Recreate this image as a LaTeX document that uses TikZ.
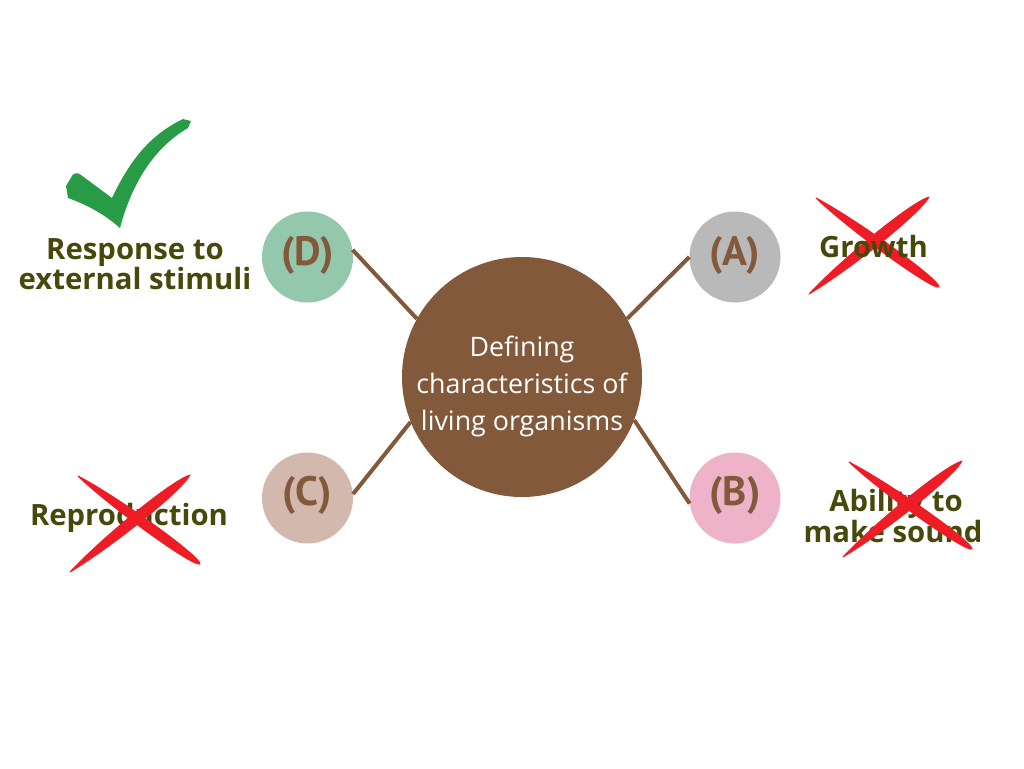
\documentclass[tikz,border=0pt]{standalone}
\usepackage{fontspec}
\setmainfont{Open Sans}
\newfontfamily\letterfont{PT Sans}
\usetikzlibrary{calc}
\definecolor{brownc}{HTML}{82593B}
\definecolor{olivec}{HTML}{47490A}
\definecolor{greenc}{HTML}{289B47}
\definecolor{redc}{HTML}{EE1C25}
\definecolor{greyc}{HTML}{B8B9B8}
\definecolor{pinkc}{HTML}{EFB3C9}
\definecolor{tanc}{HTML}{D2B8AD}
\definecolor{mintc}{HTML}{93C8AD}
\tikzset{
  x=1pt,y=-1pt,
  optcircle/.style={circle,minimum size=91pt,inner sep=0pt},
  optletter/.style={inner sep=0pt,text=brownc,font=\letterfont\bfseries\fontsize{41}{41}\selectfont},
  hub/.style={circle,fill=brownc,minimum size=240pt,inner sep=0pt},
  hubtext/.style={text=white,align=center,inner sep=0pt,font=\fontsize{26.8}{37}\selectfont},
  link/.style={draw=brownc,line width=4pt},
  answer/.style={text=olivec,align=center,inner sep=0pt,font=\bfseries\fontsize{29.3}{29}\selectfont},
  crossstroke/.style={fill=redc,draw=redc,line width=1pt,line join=round},
}
\newcommand{\bluntmark}[2]{%
  \path[crossstroke] (#1) .. controls ($(#1)!.3!(#2)!6.5pt!90:(#2)$) and ($(#1)!.98!(#2)!6.5pt!90:(#2)$) .. (#2)
   .. controls ($(#1)!.98!(#2)!6.5pt!-90:(#2)$) and ($(#1)!.3!(#2)!6.5pt!-90:(#2)$) .. (#1) -- cycle;}
\newcommand{\spindlemark}[2]{%
  \path[crossstroke] (#1) .. controls ($(#1)!.12!(#2)!7.5pt!90:(#2)$) and ($(#1)!.7!(#2)!6.5pt!90:(#2)$) .. (#2)
   .. controls ($(#1)!.7!(#2)!6.5pt!-90:(#2)$) and ($(#1)!.12!(#2)!7.5pt!-90:(#2)$) .. (#1) -- cycle;}
\begin{document}
\begin{tikzpicture}
\useasboundingbox (0,0) rectangle (1024,768);
\fill[white] (0,0) rectangle (1024,768);
\node[hub] (center) at (522,377) {};
\node[hubtext] (centertext) at (522,386.5) {Defining\\characteristics of\\living organisms};
\node[optcircle,fill=mintc] (D) at (307.5,257) {};
\node[optcircle,fill=greyc] (A) at (735,257) {};
\node[optcircle,fill=tanc] (C) at (307.5,498) {};
\node[optcircle,fill=pinkc] (B) at (735,498) {};
\node[optletter] (Dl) at (307.5,255.5) {(D)};
\node[optletter] (Al) at (735,255.5) {(A)};
\node[optletter] (Cl) at (307.5,495.5) {(C)};
\node[optletter] (Bl) at (735,495.5) {(B)};
\draw[link] (D.9) -- (center.151);
\draw[link] (A.180) -- (center.29);
\draw[link] (C.5) -- (center.202.5);
\draw[link] (B.187) -- (center.-21);
% Growth: text above cross
\coordinate (g1) at (816,198); \coordinate (g2) at (939,287);
\coordinate (g3) at (929,197); \coordinate (g4) at (809,294);
\spindlemark{g3}{g4}
\bluntmark{g1}{g2}
\node[answer] (growth) at (873.5,246.5) {Growth};
% Ability
\node[answer] (ability) at (893,516) {\hspace*{6pt}Ability to\\make sound};
\coordinate (a1) at (849,462); \coordinate (a2) at (972,549);
\coordinate (a3) at (962,461); \coordinate (a4) at (843,557);
\bluntmark{a1}{a2}
\spindlemark{a3}{a4}
% Reproduction
\node[answer] (repro) at (129,517.5) {Reproduction};
\coordinate (r1) at (78,476); \coordinate (r2) at (200,564);
\coordinate (r3) at (190,475); \coordinate (r4) at (70,572);
\bluntmark{r1}{r2}
\spindlemark{r3}{r4}
% Response
\node[answer] (resp) at (135,264.5) {Response to\\external stimuli};
\fill[greenc] (191,121) -- (183,119) .. controls (150,135) and (130,160) .. (112,198)
  -- (81,175) .. controls (77,172) and (74,173) .. (72,176) -- (66,186) -- (68,198)
  .. controls (90,206) and (105,215) .. (120,228)
  .. controls (130,190) and (150,150) .. (188,128) -- cycle;
\end{tikzpicture}
\end{document}
